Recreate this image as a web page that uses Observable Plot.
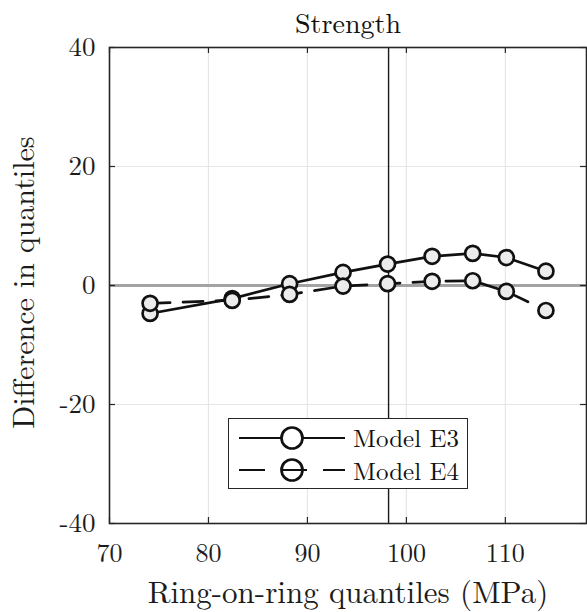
<!DOCTYPE html>
<html>
<head>
<meta charset="utf-8">
<script src="https://cdn.jsdelivr.net/npm/d3@7"></script>
<script src="https://cdn.jsdelivr.net/npm/@observablehq/plot@0.6"></script>
<style>
  body { margin: 0; background: #fff; }
  #wrap { position: relative; width: 587px; height: 612px; }
  #wrap svg, #wrap svg text, #legend { font-family: "Latin Modern Roman", "Liberation Serif", serif !important; }
  #legend { position: absolute; left: 228px; top: 418px; width: 238px; height: 69px;
    border: 1.5px solid #262626; background: #fff; }
  #legend svg { display: block; }
</style>
</head>
<body>
<div id="wrap"></div>
<script>
const quantiles = [74.1, 82.4, 88.2, 93.6, 98.1, 102.6, 106.7, 110.1, 114.1];
const modelE3 = [-4.7, -2.2, 0.3, 2.2, 3.6, 4.9, 5.4, 4.7, 2.4];
const modelE4 = [-3.0, -2.5, -1.5, -0.1, 0.3, 0.7, 0.8, -1.0, -4.2];
const seriesNames = ["Model E3", "Model E4"];
const xTicks = [70, 80, 90, 100, 110];
const yTicks = [-40, -20, 0, 20, 40];
const medianLine = 98.2;
const titleText = "Strength";
const xLabel = "Ring-on-ring quantiles (MPa)";
const yLabel = "Difference in quantiles";

const e3 = quantiles.map((q, i) => ({x: q, y: modelE3[i]}));
const e4 = quantiles.map((q, i) => ({x: q, y: modelE4[i]}));

const font = '"Latin Modern Roman", "Liberation Serif", serif';
const ink = "#1c1c1c";
const W = 587, H = 612, mL = 109, mR = 1, mT = 47, mB = 89;
const frameW = W - mL - mR, frameH = H - mT - mB;
const tickLen = 6;

const chart = Plot.plot({
  width: W, height: H,
  marginLeft: mL, marginRight: mR, marginTop: mT, marginBottom: mB,
  style: {fontFamily: font, background: "#fff", color: ink},
  x: {domain: [70, 118.2], ticks: xTicks},
  y: {domain: [-40, 40], ticks: yTicks},
  marks: [
    Plot.ruleX(xTicks.slice(1), {stroke: "#e6e6e6", strokeWidth: 1.2}),
    Plot.ruleY(yTicks.slice(1, -1), {stroke: "#e6e6e6", strokeWidth: 1.2}),
    Plot.ruleY([0], {stroke: "#a3a3a3", strokeWidth: 3}),
    Plot.ruleX([medianLine], {stroke: "#1a1a1a", strokeWidth: 1.4}),
    Plot.line(e3, {x: "x", y: "y", stroke: "#111", strokeWidth: 2.7}),
    Plot.line(e4, {x: "x", y: "y", stroke: "#111", strokeWidth: 2.7, strokeDasharray: "20,13"}),
    Plot.dot(e3, {x: "x", y: "y", r: 7.5, fill: "#ececec", stroke: "#111", strokeWidth: 2.7}),
    Plot.dot(e4, {x: "x", y: "y", r: 7.5, fill: "#ececec", stroke: "#111", strokeWidth: 2.7}),
    Plot.tickX(xTicks, {x: d => d, insetTop: frameH - tickLen, stroke: "#262626", strokeWidth: 1.2}),
    Plot.tickX(xTicks, {x: d => d, insetBottom: frameH - tickLen, stroke: "#262626", strokeWidth: 1.2}),
    Plot.tickY(yTicks, {y: d => d, insetRight: frameW - tickLen, stroke: "#262626", strokeWidth: 1.2}),
    Plot.tickY(yTicks, {y: d => d, insetLeft: frameW - tickLen, stroke: "#262626", strokeWidth: 1.2}),
    Plot.frame({stroke: "#262626", strokeWidth: 1.6}),
    Plot.axisX({ticks: xTicks, tickSize: 0, tickPadding: 20, fontSize: 26, fill: ink, label: null, tickFormat: d => String(d), fontFamily: font}),
    Plot.axisY({ticks: yTicks, tickSize: 0, tickPadding: 14, fontSize: 27, fill: ink, label: null, tickFormat: d => String(d), fontFamily: font}),
    Plot.text([titleText], {frameAnchor: "top", dy: -15, lineAnchor: "bottom", fontSize: 28, fill: "#111", fontFamily: font}),
    Plot.text([xLabel], {frameAnchor: "bottom", dy: 79, lineAnchor: "bottom", fontSize: 31, fill: ink, fontFamily: font}),
    Plot.text([yLabel], {frameAnchor: "left", textAnchor: "middle", dx: -76, dy: -3, rotate: -90, lineAnchor: "bottom", fontSize: 30, fill: ink, fontFamily: font})
  ]
});

const wrap = document.getElementById("wrap");
wrap.appendChild(chart);

const legend = document.createElement("div");
legend.id = "legend";
legend.innerHTML = `
<svg width="238" height="69">
  <line x1="10" y1="19" x2="116" y2="19" stroke="#111" stroke-width="2.2"/>
  <circle cx="63" cy="19" r="10.5" fill="#fff" stroke="#111" stroke-width="2.7"/>
  <text x="124" y="28" font-size="25" fill="#111">${seriesNames[0]}</text>
  <line x1="10" y1="51" x2="116" y2="51" stroke="#111" stroke-width="2.2" stroke-dasharray="26,16"/>
  <circle cx="63" cy="51" r="10.5" fill="none" stroke="#111" stroke-width="2.7"/>
  <text x="124" y="61" font-size="25" fill="#111">${seriesNames[1]}</text>
</svg>`;
wrap.appendChild(legend);
</script>
</body>
</html>
